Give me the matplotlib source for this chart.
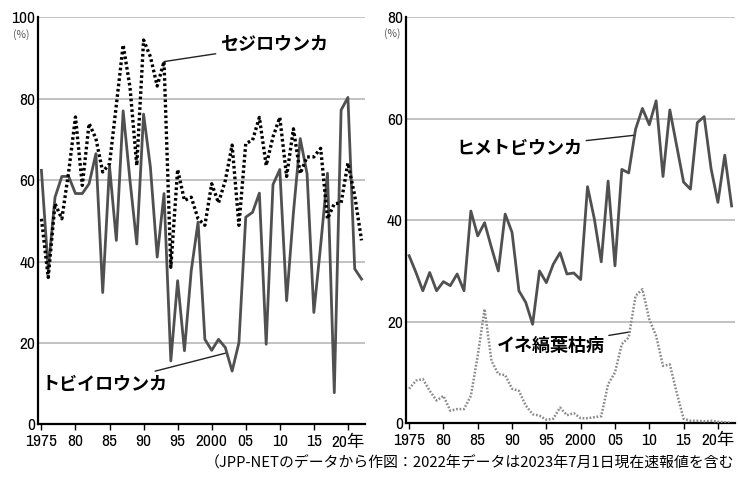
import numpy as np
import matplotlib
matplotlib.use("Agg")
import matplotlib.pyplot as plt
from matplotlib import font_manager as fm

# 年（1975-2022）
years = list(range(1975, 2023))

# 左: 発生圃場率（%）
tobiiro = [62.4, 38.0, 55.8, 60.9, 60.9, 56.7, 56.7, 59.1, 66.5, 32.4,
           63.4, 45.2, 77.0, 60.0, 44.3, 76.2, 63.2, 41.1, 56.7, 15.6,
           35.3, 18.1, 37.8, 49.7, 20.9, 18.2, 20.9, 18.9, 13.1, 20.1,
           50.9, 52.1, 56.8, 19.7, 58.9, 62.6, 30.4, 52.0, 70.2, 61.6,
           27.5, 44.0, 61.7, 7.8, 77.2, 80.3, 38.2, 35.7]
sejiro = [50.5, 36.1, 54.2, 50.5, 62.0, 75.5, 58.7, 73.9, 70.2, 62.0,
          64.0, 78.4, 93.2, 82.9, 63.6, 94.4, 90.3, 83.1, 89.1, 38.6,
          62.6, 55.0, 55.8, 50.5, 48.9, 59.1, 54.4, 59.9, 68.6, 48.9,
          69.0, 69.8, 75.4, 63.6, 70.6, 75.4, 60.9, 72.6, 61.6, 65.7,
          65.7, 67.8, 50.5, 54.2, 54.4, 64.2, 56.2, 45.2]

# 右
himetobi = [33.0, 29.7, 26.1, 29.7, 26.1, 27.9, 27.1, 29.4, 26.1, 41.8,
            36.9, 39.5, 34.6, 30.0, 41.2, 37.6, 26.1, 23.8, 19.5, 30.0,
            27.7, 31.3, 33.6, 29.4, 29.6, 28.3, 46.6, 40.2, 31.8, 47.7,
            31.0, 50.0, 49.3, 57.9, 62.0, 58.8, 63.5, 48.6, 61.7, 54.6,
            47.5, 46.1, 59.2, 60.4, 50.2, 43.5, 52.8, 42.8]
ine = [6.8, 8.4, 8.7, 6.4, 4.5, 5.4, 2.5, 2.8, 2.8, 5.4,
       13.3, 22.5, 12.3, 9.7, 9.5, 6.8, 6.4, 3.5, 1.8, 1.5,
       0.7, 0.9, 3.1, 1.6, 2.0, 1.0, 1.0, 1.2, 1.4, 7.7,
       10.0, 15.6, 16.9, 25.1, 26.4, 20.5, 17.2, 11.3, 11.6, 6.0,
       0.9, 0.5, 0.5, 0.4, 0.5, 0.3, 0.2, 0.1]

xticks = [1975, 1980, 1985, 1990, 1995, 2000, 2005, 2010, 2015, 2020]
xticklabels = ["1975", "80", "85", "90", "95", "2000", "05", "10", "15", "20年"]

# 数字用の細い書体を探す（無ければ Liberation Sans を小さめで）
narrow = [f.name for f in fm.fontManager.ttflist
          if "Narrow" in f.name or "Condensed" in f.name]
if narrow:
    NUM = [narrow[0], "Noto Sans CJK JP"]
    NUM_SIZE = 12.5
else:
    NUM = ["Liberation Sans", "Noto Sans CJK JP"]
    NUM_SIZE = 11
JP = ["Noto Sans CJK JP", "DejaVu Sans"]
GRID = "#bdbdbd"
SOLID = "#505050"


def style_axes(ax, ymax, pct_x):
    ax.set_xlim(1974.5, 2022.5)
    ax.set_ylim(0, ymax)
    ax.set_yticks(np.arange(0, ymax + 1, 20))
    ax.set_xticks(xticks)
    ax.set_xticklabels(xticklabels, fontfamily=NUM, fontsize=NUM_SIZE)
    for lab in ax.get_yticklabels():
        lab.set_fontfamily(NUM)
        lab.set_fontsize(NUM_SIZE)
    ax.grid(axis="y", color=GRID, linewidth=1.3)
    ax.set_axisbelow(True)
    for s in ("top", "right"):
        ax.spines[s].set_visible(False)
    for s in ("left", "bottom"):
        ax.spines[s].set_linewidth(1.6)
        ax.spines[s].set_color("black")
    ax.tick_params(axis="y", length=0, pad=2)
    ax.tick_params(axis="x", length=4, width=1.0, pad=3)
    ax.text(pct_x, 0.972, "(%)", transform=ax.transAxes, fontsize=7.5,
            color="#555555", ha="center", va="top", family=JP)


fig = plt.figure(figsize=(7.38, 4.78), dpi=100)
ax1 = fig.add_axes([0.0515, 0.112, 0.443, 0.852])
ax2 = fig.add_axes([0.5497, 0.1144, 0.4463, 0.8500])

# 左パネル
style_axes(ax1, 100, -0.05)
ax1.plot(years, tobiiro, color=SOLID, lw=2.0, zorder=3)
ax1.plot(years, sejiro, color="black", lw=2.4, linestyle=(0, (0.8, 0.8)), zorder=4)

ax1.annotate("セジロウンカ", xy=(1993, 89.1), xytext=(2001.2, 93.2),
             fontsize=13, fontweight="bold", family=JP, va="center", ha="left",
             arrowprops=dict(arrowstyle="-", color="#222222", lw=1.0,
                             shrinkA=1, shrinkB=0))
ax1.annotate("トビイロウンカ", xy=(2002, 17.5), xytext=(1993.5, 9.9),
             fontsize=13, fontweight="bold", family=JP, va="center", ha="right",
             arrowprops=dict(arrowstyle="-", color="#222222", lw=1.0,
                             shrinkA=2, shrinkB=0))

# 右パネル
style_axes(ax2, 80, -0.04)
ax2.plot(years, himetobi, color=SOLID, lw=2.0, zorder=3)
ax2.plot(years, ine, color="#8a8a8a", lw=1.8, linestyle=(0, (0.7, 0.7)), zorder=4)

ax2.annotate("ヒメトビウンカ", xy=(2007.7, 56.7), xytext=(2000.2, 54.2),
             fontsize=13, fontweight="bold", family=JP, va="center", ha="right",
             arrowprops=dict(arrowstyle="-", color="#222222", lw=1.0,
                             shrinkA=1, shrinkB=0))
ax2.annotate("イネ縞葉枯病", xy=(2007.2, 18.0), xytext=(2003.5, 15.4),
             fontsize=13, fontweight="bold", family=JP, va="center", ha="right",
             arrowprops=dict(arrowstyle="-", color="#222222", lw=1.0,
                             shrinkA=1, shrinkB=0))

fig.text(0.995, 0.030, "（JPP-NETのデータから作図：2022年データは2023年7月1日現在速報値を含む",
         ha="right", va="center", fontsize=10.7, family=JP)

fig.savefig("out.png", dpi=100)
